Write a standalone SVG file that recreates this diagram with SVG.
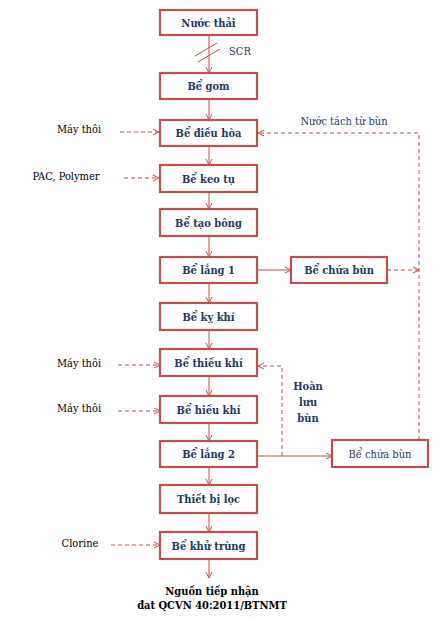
<svg xmlns="http://www.w3.org/2000/svg" width="445" height="619" viewBox="0 0 445 619">
<style>
text{font-family:'DejaVu Serif Condensed','DejaVu Serif',serif}
.box{fill:#fff;stroke:#C0504D;stroke-width:2.2}
.t{font-size:11px;font-weight:bold;fill:#1F3864;text-anchor:middle}
.tn{font-size:11px;fill:#1F3864;text-anchor:middle}
.lb{font-size:11px;fill:#000;text-anchor:middle}
.c{fill:none;stroke:#C0504D;stroke-width:1}
.d{fill:none;stroke:#C0504D;stroke-width:1;stroke-dasharray:4,3}
</style>
<defs>
<marker id="ah" markerWidth="8" markerHeight="8" refX="7" refY="4" orient="auto" markerUnits="userSpaceOnUse">
<path d="M1,1 L7,4 L1,7" fill="none" stroke="#C0504D" stroke-width="1"/>
</marker>
</defs>
<rect width="445" height="619" fill="#fff"/>
<g id="connectors">
<path class="c" d="M209,35 V73" marker-end="url(#ah)"/>
<path class="c" d="M195,56 L217,43 M198,62 L220,49" stroke-width="0.8"/>
<path class="c" d="M209,99 V120" marker-end="url(#ah)"/>
<path class="c" d="M209,146 V165" marker-end="url(#ah)"/>
<path class="c" d="M209,192 V209" marker-end="url(#ah)"/>
<path class="c" d="M209,236 V257" marker-end="url(#ah)"/>
<path class="c" d="M209,283 V303" marker-end="url(#ah)"/>
<path class="c" d="M209,330 V349" marker-end="url(#ah)"/>
<path class="c" d="M209,376 V396" marker-end="url(#ah)"/>
<path class="c" d="M209,423 V441" marker-end="url(#ah)"/>
<path class="c" d="M209,467 V485" marker-end="url(#ah)"/>
<path class="c" d="M209,513 V532" marker-end="url(#ah)"/>
<path class="c" d="M209,559 V578" marker-end="url(#ah)"/>
<path class="c" d="M257,270 H291" marker-end="url(#ah)"/>
<path class="d" d="M387,270 H419" marker-end="url(#ah)"/>
<path class="d" d="M419,440 V133 H258" marker-end="url(#ah)"/>
<path class="c" d="M257,456 H332" marker-end="url(#ah)"/>
<path class="d" d="M282,456 V366 H258" marker-end="url(#ah)"/>
<path class="d" d="M120,132 H159" marker-end="url(#ah)"/>
<path class="d" d="M124,178 H159" marker-end="url(#ah)"/>
<path class="d" d="M118,365 H160" marker-end="url(#ah)"/>
<path class="d" d="M118,411 H160" marker-end="url(#ah)"/>
<path class="d" d="M111,545 H160" marker-end="url(#ah)"/>
</g>
<g id="n1"><rect class="box" x="160" y="10" width="97" height="25"/><text class="t" x="208.5" y="26.5">Nước thải</text></g>
<g id="n2"><rect class="box" x="160" y="73" width="97" height="26"/><text class="t" x="208.5" y="90">Bể gom</text></g>
<g id="n3"><rect class="box" x="160" y="120" width="97" height="26"/><text class="t" x="208.5" y="137">Bể điều hòa</text></g>
<g id="n4"><rect class="box" x="160" y="165" width="97" height="27"/><text class="t" x="208.5" y="182.5">Bể keo tụ</text></g>
<g id="n5"><rect class="box" x="160" y="209" width="97" height="27"/><text class="t" x="208.5" y="226.5">Bể tạo bông</text></g>
<g id="n6"><rect class="box" x="160" y="257" width="97" height="26"/><text class="t" x="208.5" y="274">Bể lắng 1</text></g>
<g id="n7"><rect class="box" x="160" y="303" width="97" height="27"/><text class="t" x="208.5" y="320.5">Bể kỵ khí</text></g>
<g id="n8"><rect class="box" x="160" y="349" width="97" height="27"/><text class="t" x="208.5" y="366.5">Bể thiếu khí</text></g>
<g id="n9"><rect class="box" x="160" y="396" width="97" height="27"/><text class="t" x="208.5" y="413.5">Bể hiếu khí</text></g>
<g id="n10"><rect class="box" x="160" y="441" width="97" height="26"/><text class="t" x="208.5" y="458">Bể lắng 2</text></g>
<g id="n11"><rect class="box" x="160" y="485" width="97" height="28"/><text class="t" x="208.5" y="503">Thiết bị lọc</text></g>
<g id="n12"><rect class="box" x="160" y="532" width="97" height="27"/><text class="t" x="208.5" y="549.5">Bể khử trùng</text></g>
<g id="n13"><rect class="box" x="291" y="257" width="96" height="26"/><text class="t" x="339" y="274">Bể chứa bùn</text></g>
<g id="n14"><rect class="box" x="332" y="440" width="96" height="27"/><text class="tn" x="380" y="457.5">Bể chứa bùn</text></g>
<g id="labels">
<text class="tn" x="240" y="55">SCR</text>
<text class="tn" x="344" y="125">Nước tách từ bùn</text>
<text class="lb" x="79" y="133">Máy thôi</text>
<text class="lb" x="66" y="180">PAC, Polymer</text>
<text class="lb" x="79" y="367">Máy thôi</text>
<text class="lb" x="79" y="412">Máy thôi</text>
<text class="lb" x="80" y="547">Clorine</text>
<text class="t" x="308" y="390">Hoàn</text>
<text class="t" x="308" y="406">lưu</text>
<text class="t" x="308" y="422">bùn</text>
<text class="t" x="212" y="595" style="fill:#000">Nguồn tiếp nhận</text>
<text class="t" x="212" y="609" style="fill:#000">đat QCVN 40:2011/BTNMT</text>
</g>
</svg>
